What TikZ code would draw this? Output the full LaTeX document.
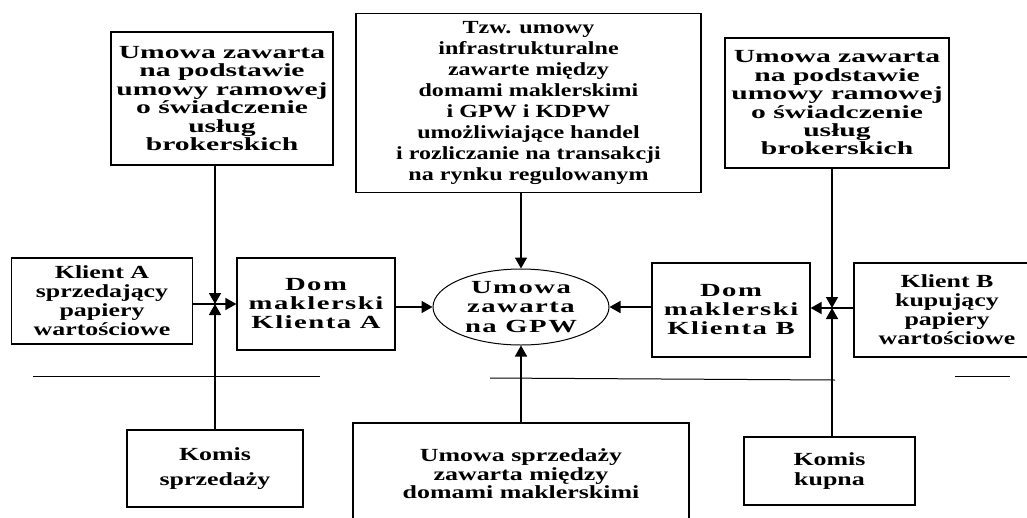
\documentclass[tikz,border=0pt]{standalone}
\usepackage{fontspec}
\setmainfont{Liberation Serif}[FakeStretch=1.4]
\newfontfamily\widef{Liberation Serif}[FakeStretch=1.6]
\newfontfamily\narrowf{Liberation Serif}[FakeStretch=1.3]
\newfontfamily\spacedf{Liberation Serif}[FakeStretch=1.55,LetterSpace=8]
\usetikzlibrary{arrows.meta,shapes.geometric}
\tikzset{
  box/.style={draw, line width=1.2pt, align=center, inner sep=0pt,
    font=\bfseries\fontsize{18.5}{18.5}\selectfont},
  widebox/.style={box, font=\widef\bfseries\fontsize{18.5}{18.4}\selectfont},
  spacedbox/.style={box, font=\spacedf\bfseries\fontsize{18.5}{19}\selectfont},
  oval/.style={ellipse, draw, line width=1pt, align=center, inner sep=0pt,
    font=\spacedf\bfseries\fontsize{18.5}{19.5}\selectfont},
  conn/.style={line width=1.6pt, -{Triangle[length=11pt,width=12pt]}},
  rule/.style={line width=1pt},
}
\begin{document}
\begin{tikzpicture}[x=1pt,y=-1pt]
\useasboundingbox (0,0) rectangle (1027,517);
\clip (0,0) rectangle (1027,517);
% top boxes
\node[widebox, minimum width=222pt, minimum height=133pt] (tl) at (222,98.5)
  {Umowa zawarta\\na podstawie\\umowy ramowej\\o świadczenie\\usług\\brokerskich};
\node[box, minimum width=345pt, minimum height=179pt, font=\narrowf\bfseries\fontsize{18.5}{21}\selectfont] (tc) at (528.5,103)
  {Tzw. umowy\\infrastrukturalne\\zawarte między\\domami maklerskimi\\i GPW i KDPW\\umożliwiające handel\\i rozliczanie na transakcji\\na rynku regulowanym};
\node[widebox, minimum width=224pt, minimum height=130pt] (tr) at (837,103)
  {Umowa zawarta\\na podstawie\\umowy ramowej\\o świadczenie\\usług\\brokerskich};
% middle row
\node[box, minimum width=181pt, minimum height=86pt, font=\bfseries\fontsize{18.5}{19}\selectfont] (ka) at (102,301)
  {Klient A\\sprzedający\\papiery\\wartościowe};
\node[spacedbox, minimum width=158pt, minimum height=92pt] (da) at (316,304)
  {Dom\\maklerski\\Klienta A};
\node[oval, minimum width=176pt, minimum height=76pt] (el) at (521,307)
  {Umowa\\zawarta\\na GPW};
\node[spacedbox, minimum width=158pt, minimum height=94pt] (db) at (731,310)
  {Dom\\maklerski\\Klienta B};
\node[box, minimum width=186pt, minimum height=94pt, font=\bfseries\fontsize{18.5}{19}\selectfont] (kb) at (947,310)
  {Klient B\\kupujący\\papiery\\wartościowe};
% bottom row
\node[box, minimum width=176pt, minimum height=77pt, font=\bfseries\fontsize{18.5}{25}\selectfont] (ks) at (215,468.5)
  {Komis\\sprzedaży};
\node[box, minimum width=171pt, minimum height=68pt, font=\bfseries\fontsize{18.5}{20}\selectfont] (kk) at (829.5,471)
  {Komis\\kupna};
\node[box, minimum width=336pt, minimum height=102pt] (bc) at (521,474)
  {Umowa sprzedaży\\zawarta między\\domami maklerskimi};
% junctions
\coordinate (ja) at (215,304);
\coordinate (jb) at (832,308);
% horizontal rule
\draw[rule] (33,376) -- (320,376);
\draw[rule] (490,378) -- (835,380);
\draw[rule] (955,376) -- (1010,376);
% connectors left
\draw[conn] (tl.south -| ja) -- (ja);
\draw[conn] (ks.north -| ja) -- (ja);
\draw[conn] (ka.east |- ja) -- (da.west |- ja);
\draw[conn] (da.east |- el.west) -- (el.west);
% centre
\draw[conn] (tc.south -| el) -- (el.north);
\draw[conn] (bc.north -| el) -- (el.south);
% right
\draw[conn] (db.west |- el.east) -- (el.east);
\draw[conn] (tr.south -| jb) -- (jb);
\draw[conn] (kk.north -| jb) -- (jb);
\draw[conn] (kb.west |- jb) -- (db.east |- jb);
\end{tikzpicture}
\end{document}
